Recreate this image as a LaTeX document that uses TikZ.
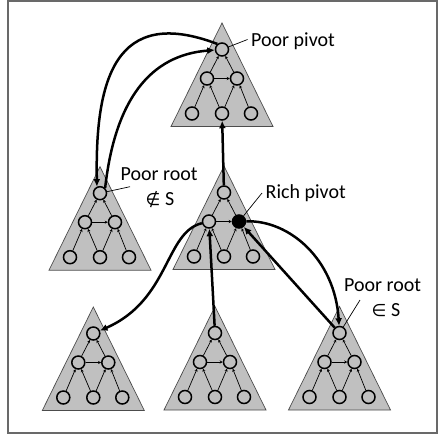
\documentclass[tikz,border=0pt]{standalone}
\usepackage{fontspec}
\setmainfont{Carlito}
\newfontfamily\symfont{DejaVu Sans}
\usetikzlibrary{arrows.meta}
\definecolor{treegray}{RGB}{192,192,192}
\definecolor{framegray}{RGB}{105,105,105}
\begin{document}
\begin{tikzpicture}[x=1pt,y=-1pt,
  circ/.style={circle,draw=black,line width=1.5pt,fill=treegray,minimum size=13pt,inner sep=0pt},
  tedge/.style={line width=0.7pt,-{Stealth[length=3pt,width=3pt]}},
  conn/.style={line width=2.5pt,-{Latex[length=7.5pt,width=7pt]}},
  leader/.style={line width=0.7pt},
  lbl/.style={font=\fontsize{20}{24}\selectfont,inner sep=0pt},
  tree/.pic={
    \path[fill=treegray,draw=black!70,line width=0.7pt] (0,0) -- (51,103.5) -- (-51,103.5) -- cycle;
    \node[circ] (-t) at (0,26.5) {};
    \node[circ] (-ml) at (-15,55.5) {};
    \node[circ,fill=#1] (-mr) at (15,55.5) {};
    \node[circ] (-bl) at (-30,90.5) {};
    \node[circ] (-bm) at (0,90.5) {};
    \node[circ] (-br) at (29,90.5) {};
    \draw[tedge] (-bl) -- (-ml);
    \draw[tedge] (-bm) -- (-ml);
    \draw[tedge] (-bm) -- (-mr);
    \draw[tedge] (-br) -- (-mr);
    \draw[tedge] (-ml) -- (-t);
    \draw[tedge] (-mr) -- (-t);
    \draw[tedge] (-ml) -- (-mr);
  }]
\useasboundingbox (0,0) rectangle (438,434);

% trees
\pic (T) at (222,23) {tree=treegray};
\pic (L) at (100,166.7) {tree=treegray};
\pic (M) at (224,166) {tree=black};
\pic (B1) at (93.3,307) {tree=treegray};
\pic (B2) at (215,306.5) {tree=treegray};
\pic (B3) at (339.5,306.5) {tree=treegray};

% connectors
\draw[conn] (T-t.130) .. controls (115,5) and (95,80) .. (L-t.115);
\draw[conn] (L-t.45) .. controls (115,100) and (150,55) .. (T-t);
\draw[conn] (M-t) -- (T-bm);
\draw[conn] (M-ml) .. controls (165,232) and (170,300) .. (B1-t);
\draw[conn] (B2-t) -- (M-ml);
\draw[conn] (M-mr) .. controls (290,220) and (335,260) .. (B3-t);
\draw[conn] (B3-t) -- (M-mr);

% labels
\node[lbl,anchor=base west] (pp) at (251,46.5) {Poor pivot};
\node[lbl,anchor=base west] (pr1) at (120.5,180) {Poor root};
\node[lbl,anchor=base] (ns) at (160,205) {{\symfont\fontsize{17}{20}\selectfont ∉} S};
\node[lbl,anchor=base west] (rp) at (265.5,198.5) {Rich pivot};
\node[lbl,anchor=base west] (pr2) at (344,291.7) {Poor root};
\node[lbl,anchor=base] (is) at (386,316.7) {{\symfont\fontsize{17}{20}\selectfont ∈} S};

% leader lines
\coordinate (ppl) at (247.5,39.5);
\coordinate (pr1l) at (130,186.7);
\coordinate (rpl) at (262,193);
\coordinate (pr2l) at (360,300);
\draw[leader] (ppl) -- (T-t);
\draw[leader] (pr1l) -- (L-t);
\draw[leader] (rpl) -- (M-mr);
\draw[leader] (pr2l) -- (B3-t);

% frame
\draw[framegray,line width=1.8pt] (8.2,0.6) rectangle (437.2,433.2);
\end{tikzpicture}
\end{document}
